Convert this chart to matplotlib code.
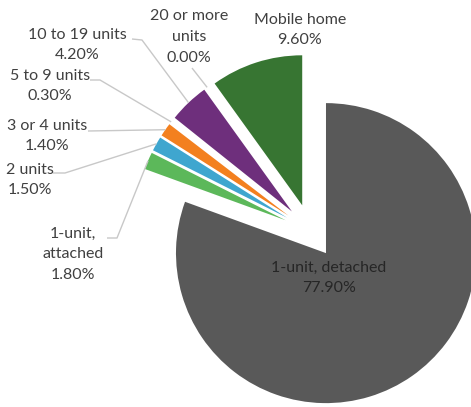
import numpy as np
import matplotlib
matplotlib.use("Agg")
import matplotlib.pyplot as plt

categories = ["1-unit, detached", "1-unit, attached", "2 units", "3 or 4 units",
              "5 to 9 units", "10 to 19 units", "20 or more units", "Mobile home"]
values = [77.9, 1.8, 1.5, 1.4, 0.3, 4.2, 0.0, 9.6]
label_texts = ["1-unit, detached\n77.90%", "1-unit,\nattached\n1.80%", "2 units\n1.50%",
               "3 or 4 units\n1.40%", "5 to 9 units\n0.30%", "10 to 19 units\n4.20%",
               "20 or more\nunits\n0.00%", "Mobile home\n9.60%"]
colors = ["#595959", "#5cb85a", "#3fa6cf", "#f3801f", "#ffffff", "#6e2f7c", "#a0a0a0", "#377532"]

W, H = 471, 407
fig = plt.figure(figsize=(W / 100, H / 100), dpi=100)
ax = fig.add_axes([0, 0, 1, 1])

def P(x, y):
    return (x, H - y)

R = 150
cx, cy = P(310.5, 231)
wedges, _ = ax.pie(values, colors=colors, startangle=90, counterclock=False,
                   radius=R, center=(cx, cy), explode=[27] * len(values),
                   wedgeprops=dict(linewidth=0))
ax.set_xlim(0, W)
ax.set_ylim(0, H)
ax.set_aspect("equal")
ax.axis("off")

font = dict(family=["Lato", "DejaVu Sans"], fontsize=11.5, color="#404040",
            ha="center", va="center", linespacing=1.6)

# label placements (pixel centres) and leader start / elbow points
label_pos = {
    0: (329, 278),
    1: (73, 254),
    2: (30, 180),
    3: (47, 136),
    4: (50, 86),
    5: (77, 45),
    6: (189, 37),
    7: (300, 30),
}
leaders = {
    1: [(107, 238), (117, 238)],
    2: [(53, 173), (65, 173)],
    3: [(88, 131)],
    4: [(90, 80), (100, 80)],
    5: [(132, 39), (142, 40)],
    6: [(192, 68)],
}

for i, txt in enumerate(label_texts):
    x, y = P(*label_pos[i])
    kw = dict(font)
    if i == 0:
        kw["color"] = "#262626"
    ax.text(x, y, txt, **kw)

for i, pts in leaders.items():
    w = wedges[i]
    thm = np.deg2rad(0.5 * (w.theta1 + w.theta2))
    ex = w.center[0] + w.r * np.cos(thm)
    ey = w.center[1] + w.r * np.sin(thm)
    xs = [P(*p)[0] for p in pts] + [ex]
    ys = [P(*p)[1] for p in pts] + [ey]
    ax.plot(xs, ys, color="#c8c8c8", lw=1.0, solid_capstyle="butt")

fig.savefig("out.png", dpi=100, facecolor="white")
